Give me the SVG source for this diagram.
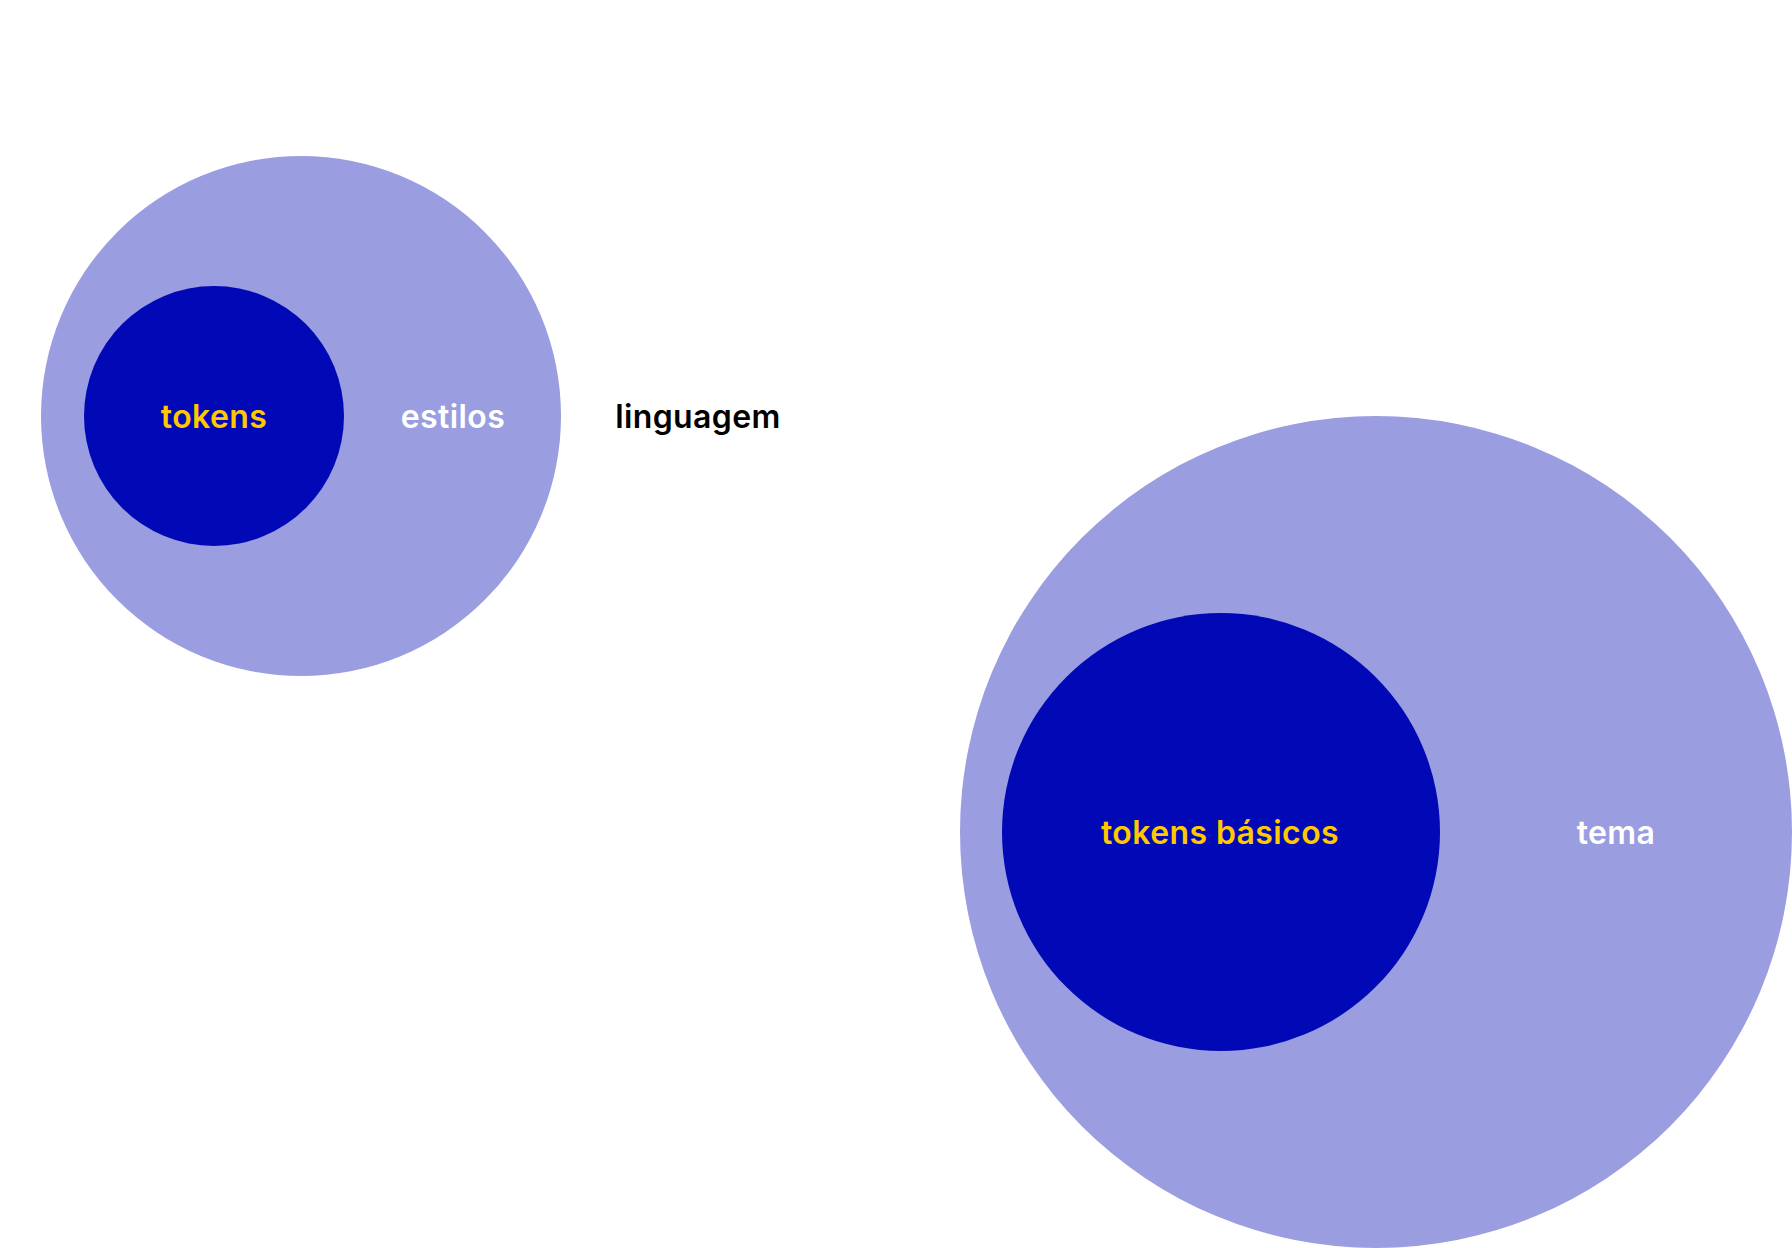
<svg xmlns="http://www.w3.org/2000/svg" width="1792" height="1248" viewBox="0 0 1792 1248">
<style>
.outer{fill:#9a9ee0}
.inner{fill:#0009b5}
text{font-family:Inter,"Noto Sans",sans-serif;font-size:32px;font-weight:600;letter-spacing:0.4px;text-anchor:middle}
.y{fill:#ffc800}
.w{fill:#ffffff}
.k{fill:#000000}
</style>
<rect width="1792" height="1248" fill="#ffffff"/>
<g id="estilos">
<circle class="outer" cx="301" cy="416" r="260"/>
<text class="w" x="453" y="428">estilos</text>
</g>
<g id="tokens">
<circle class="inner" cx="214" cy="416" r="130"/>
<text class="y" x="214" y="428">tokens</text>
</g>
<g id="linguagem">
<text class="k" x="698" y="428">linguagem</text>
</g>
<g id="tema">
<circle class="outer" cx="1376" cy="832" r="416"/>
<text class="w" x="1616" y="844">tema</text>
</g>
<g id="tokens-basicos">
<circle class="inner" cx="1221" cy="832" r="219"/>
<text class="y" x="1220" y="844">tokens básicos</text>
</g>
<g id="connectors"></g>
</svg>
